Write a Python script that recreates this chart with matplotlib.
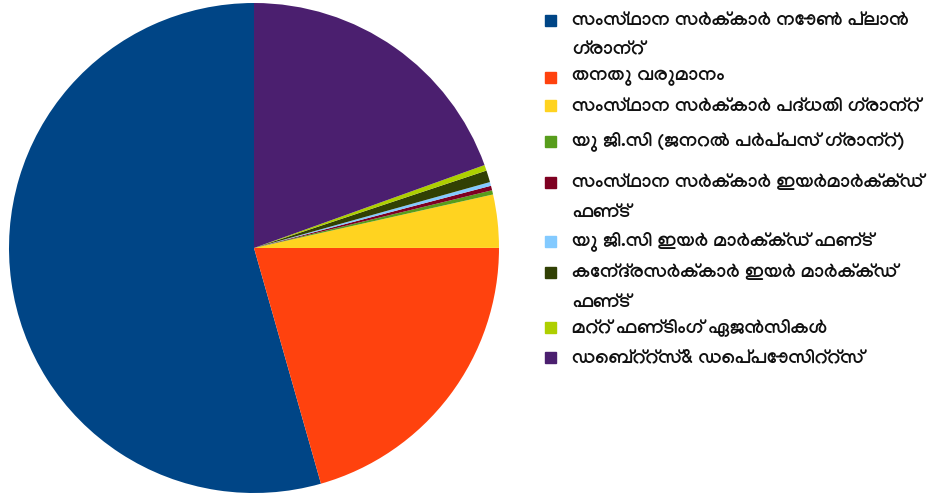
import matplotlib
matplotlib.use("Agg")
import matplotlib.pyplot as plt
from matplotlib.patches import Rectangle

plt.rcParams['font.family'] = ['Manjari', 'DejaVu Sans']

# income sources (share of total, %)
labels = [
    "സംസ്ഥാന സർക്കാർ നോൺ പ്ലാൻ\nഗ്രാന്റ്",
    "തനതു വരുമാനം",
    "സംസ്ഥാന സർക്കാർ പദ്ധതി ഗ്രാന്റ്",
    "യു ജി.സി (ജനറൽ പർപ്പസ് ഗ്രാന്റ്)",
    "സംസ്ഥാന സർക്കാർ ഇയർമാർക്ക്ഡ്\nഫണ്ട്",
    "യു ജി.സി ഇയർ മാർക്ക്ഡ് ഫണ്ട്",
    "കേന്ദ്രസർക്കാർ ഇയർ മാർക്ക്ഡ്\nഫണ്ട്",
    "മറ്റ് ഫണ്ടിംഗ് ഏജൻസികൾ",
    "ഡെബ്റ്റ്സ്& ഡെപ്പോസിറ്റ്സ്",
]
shares = [54.4, 20.6, 3.5, 0.28, 0.3, 0.25, 0.78, 0.38, 19.5]
colors = ['#004586', '#ff420e', '#ffd320', '#579d1c', '#7e0021',
          '#83caff', '#314004', '#aecf00', '#4b1f6f']

W, H = 935, 496
fig = plt.figure(figsize=(W / 100, H / 100), dpi=100)

ax = fig.add_axes([9 / W, 3 / H, 490 / W, 490 / H])
ax.pie(shares, colors=colors, startangle=90, counterclock=True,
       wedgeprops=dict(linewidth=0))
ax.set_xlim(-1, 1)
ax.set_ylim(-1, 1)
ax.set_aspect('equal')
ax.axis('off')

# legend, drawn by hand so the square sits on the first line
row_y = [20, 77, 105, 141, 182, 241, 272, 327, 357]
for lab, col, y in zip(labels, colors, row_y):
    fig.patches.append(Rectangle((545 / W, 1 - (y + 6) / H), 11 / W, 11 / H,
                                 transform=fig.transFigure, color=col,
                                 figure=fig))
    fig.text(572 / W, 1 - (y - 10) / H, lab, fontsize=14, fontweight='bold',
             va='top', ha='left', color='#111111', linespacing=1.7)

fig.savefig("out.png")
